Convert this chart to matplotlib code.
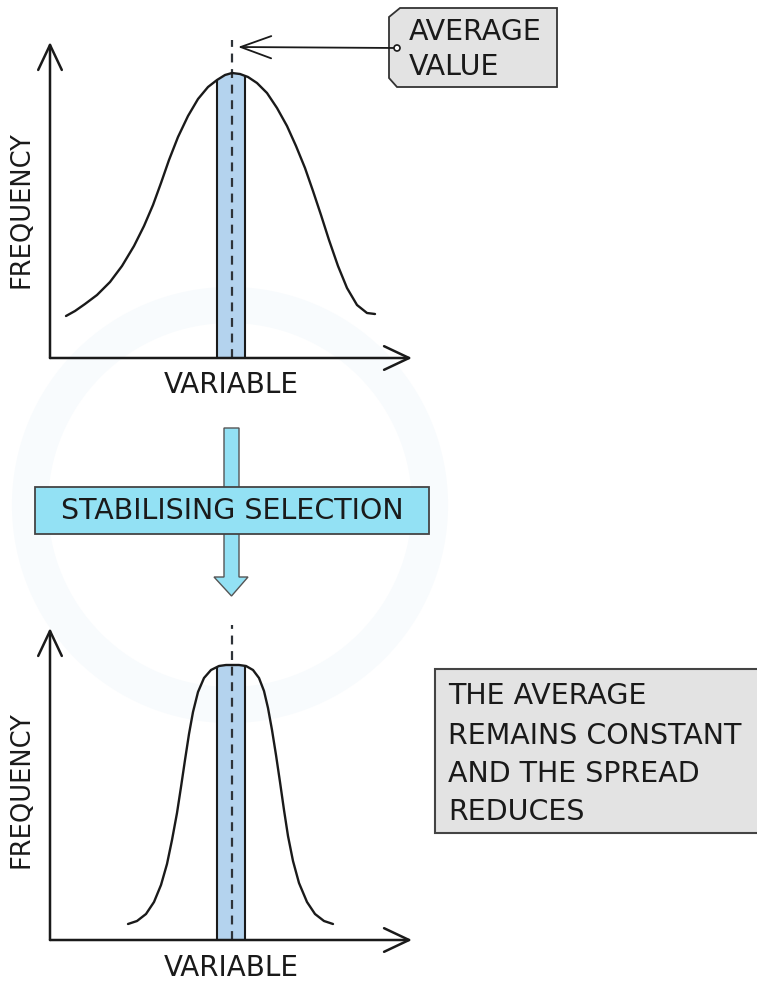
"""Stabilising selection: the spread shrinks, the average stays put. Writes out.png."""
import matplotlib.pyplot as plt
import numpy as np
from matplotlib.patches import Circle, Polygon, Rectangle

# Curves (variable vs frequency, arbitrary units)
BEFORE_X = [16, 25, 35, 47, 60, 72, 84, 94, 103, 111, 119, 128, 138, 148, 158, 167, 175,
            182, 190, 198, 207, 217, 227, 237, 246, 255, 263, 271, 279, 288, 297, 307, 317, 325]
BEFORE_Y = [42, 47, 54, 63, 76, 92, 112, 132, 153, 175, 198, 221, 242, 259, 271, 278, 283,
            285, 284, 281, 275, 265, 250, 232, 212, 190, 167, 143, 118, 92, 70, 53, 45, 44]
AFTER_X = [78, 87, 96, 104, 111, 117, 122, 127, 131, 135, 139, 143, 148, 154, 161, 169, 176,
           182, 189, 196, 203, 209, 214, 218, 222, 226, 230, 234, 238, 243, 249, 257, 265, 274, 283]
AFTER_Y = [16, 19, 26, 38, 55, 76, 100, 127, 153, 180, 206, 228, 248, 262, 270, 274, 275,
           275, 275, 274, 270, 262, 249, 232, 210, 185, 158, 130, 104, 79, 57, 38, 26, 19, 16]
MEAN = 182
BAND = (167, 195)

BAR = "#b4d3ee"
CYAN = "#93e1f4"
GREY = "#e3e3e3"
INK = "#1a1a1a"
FONT = "DejaVu Sans"

W, H = 757, 983
fig = plt.figure(figsize=(W / 100, H / 100), dpi=100)
fig.patch.set_facecolor("white")

# overlay in pixel coords for boxes/labels
ov = fig.add_axes([0, 0, 1, 1], zorder=0)
ov.set_xlim(0, W)
ov.set_ylim(H, 0)
ov.axis("off")

# faint watermark ring
ov.add_patch(Circle((230, 505), 200, fill=False, lw=26, ec="#f8fbfd", zorder=0))


def panel(origin_y, top_y, xs, ys, mean_top):
    ax = fig.add_axes([50 / W, (H - origin_y) / H, 362 / W, (origin_y - top_y) / H], zorder=1)
    ax.set_xlim(0, 362)
    ax.set_ylim(0, origin_y - top_y)
    ax.patch.set_alpha(0)
    ax.axis("off")
    xs, ys = np.asarray(xs, float), np.asarray(ys, float)

    # shaded band around the mean, topped by the curve
    lo, hi = BAND
    inside = (xs > lo) & (xs < hi)
    bx = np.r_[lo, xs[inside], hi]
    by = np.r_[np.interp(lo, xs, ys), ys[inside], np.interp(hi, xs, ys)]
    ax.fill_between(bx, 0, by, color=BAR, lw=0, zorder=1)
    ax.vlines([lo, hi], 0, [by[0], by[-1]], color=INK, lw=1.5, zorder=2)

    ax.plot(xs, ys, color=INK, lw=1.7, solid_capstyle="round", solid_joinstyle="round",
            zorder=3)
    ax.plot([MEAN, MEAN], [0, mean_top], color="#2e3338", lw=1.6,
            ls=(0, (4, 3)), clip_on=False, zorder=2)

    arrow = dict(arrowstyle="->,head_length=1.8,head_width=0.85", mutation_scale=10,
                 color=INK, lw=1.8, shrinkA=0, shrinkB=0)
    ax.annotate("", xy=(0, origin_y - top_y), xytext=(0, 0), arrowprops=arrow,
                annotation_clip=False)
    ax.annotate("", xy=(362, 0), xytext=(0, 0), arrowprops=arrow, annotation_clip=False)
    return ax


panel(358, 42, BEFORE_X, BEFORE_Y, 318)
panel(940, 628, AFTER_X, AFTER_Y, 315)

for cy_freq, cy_var in [(210, 385), (790, 968)]:
    ov.text(22, cy_freq, "FREQUENCY", rotation=90, ha="center", va="center",
            fontsize=18.5, family=FONT, color=INK)
    ov.text(231, cy_var, "VARIABLE", ha="center", va="center",
            fontsize=20, family=FONT, color=INK)

# "average value" tag with pointer
ov.add_patch(Polygon([(400, 8), (557, 8), (557, 87), (397, 87), (389, 78), (389, 17)],
                     closed=True, fc=GREY, ec="#333333", lw=1.3, zorder=3))
ov.annotate("", xy=(238, 47), xytext=(397, 48),
            arrowprops=dict(arrowstyle="->,head_length=2.2,head_width=0.8", mutation_scale=10,
                            color=INK, lw=1.3, shrinkA=0, shrinkB=0), zorder=4)
ov.add_patch(Circle((397, 48), 3, fc="white", ec=INK, lw=1.2, zorder=5))
ov.text(409, 32, "AVERAGE", ha="left", va="center", fontsize=20.5, family=FONT,
        color=INK, zorder=5)
ov.text(409, 67, "VALUE", ha="left", va="center", fontsize=20.5, family=FONT,
        color=INK, zorder=5)

# big down arrow crossing the selection banner
ov.add_patch(Polygon([(224, 428), (239, 428), (239, 577), (248, 577), (231.5, 596),
                      (214, 577), (224, 577)], closed=True, fc=CYAN, ec="#555555",
                     lw=1.0, zorder=3))
ov.add_patch(Rectangle((35, 487), 394, 47, fc=CYAN, ec="#444444", lw=1.3, zorder=4))
ov.text(232, 511, "STABILISING SELECTION", ha="center", va="center", fontsize=20.5,
        family=FONT, color=INK, zorder=5)

# conclusion box
ov.add_patch(Rectangle((435, 669), 340, 164, fc=GREY, ec="#444444", lw=1.5, zorder=3))
for line, cy in zip(["THE AVERAGE", "REMAINS CONSTANT", "AND THE SPREAD", "REDUCES"],
                    [696, 736, 774, 812]):
    ov.text(448, cy, line, ha="left", va="center", fontsize=20.5, family=FONT,
            color=INK, zorder=5)

fig.savefig("out.png", dpi=100, facecolor="white")
